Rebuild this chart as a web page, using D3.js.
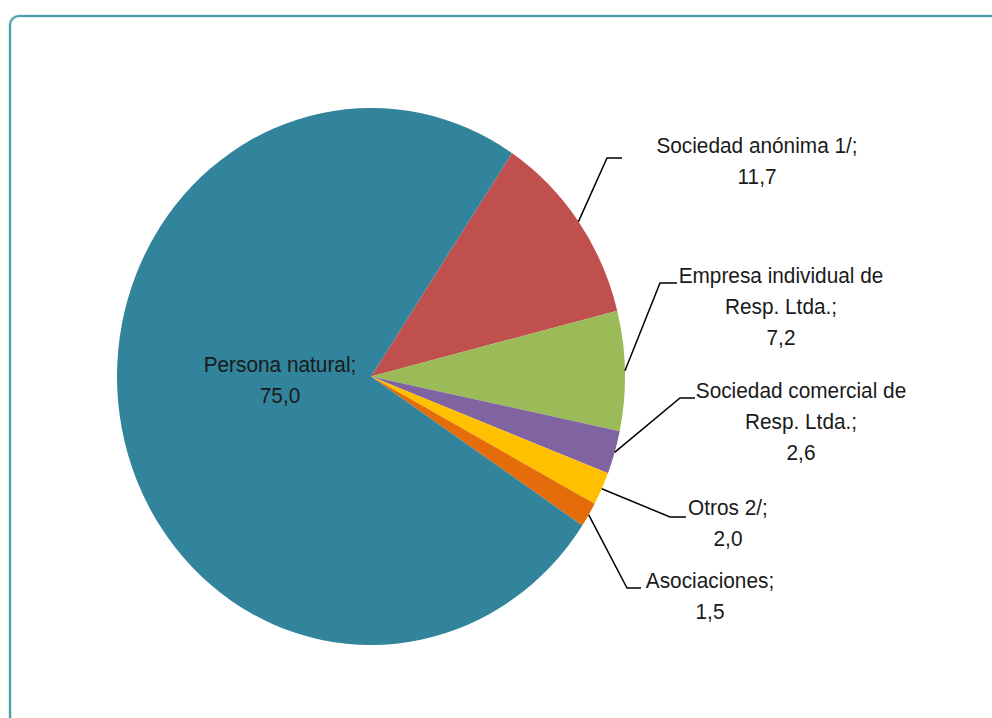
<!DOCTYPE html>
<html><head><meta charset="utf-8">
<script src="https://cdn.jsdelivr.net/npm/d3@7"></script>
<style>html,body{margin:0;padding:0;background:#fff;}svg{display:block;}</style>
</head><body>
<svg id="c" width="992" height="718"></svg>
<script>
const categories = ["Sociedad anónima 1/;", "Empresa individual de Resp. Ltda.;", "Sociedad comercial de Resp. Ltda.;", "Otros 2/;", "Asociaciones;", "Persona natural;"];
const labelLines = [["Sociedad anónima 1/;"], ["Empresa individual de", "Resp. Ltda.;"], ["Sociedad comercial de", "Resp. Ltda.;"], ["Otros 2/;"], ["Asociaciones;"], ["Persona natural;"]];
const values = [11.7, 7.2, 2.6, 2.0, 1.5, 75.0];
const valueLabels = ["11,7", "7,2", "2,6", "2,0", "1,5", "75,0"];
const colors = ["#C0504D", "#9BBB59", "#8064A2", "#FFC000", "#E46C0A", "#31849B"];
// label layout (centre x, first baseline y, elbow x, elbow y, line end x)
const labelLayout = [
  {cx: 757, y: 153, ex: 607, ey: 158, hx: 622},
  {cx: 781, y: 283, ex: 660, ey: 283, hx: 677},
  {cx: 801, y: 398, ex: 680, ey: 398, hx: 695},
  {cx: 728, y: 515, ex: 670, ey: 517, hx: 686},
  {cx: 710, y: 588, ex: 627, ey: 588, hx: 641},
  {cx: 280, y: 372}
];

const svg = d3.select("#c");
// frame
svg.append("rect").attr("x", 10).attr("y", 16).attr("width", 1200).attr("height", 1000)
  .attr("rx", 9).attr("fill", "none").attr("stroke", "#e3eef0").attr("stroke-width", 4);
svg.append("rect").attr("x", 10).attr("y", 16).attr("width", 1200).attr("height", 1000)
  .attr("rx", 9).attr("fill", "none").attr("stroke", "#4a9fae").attr("stroke-width", 2);

const cx = 371, cy = 376.5, r = 254, sy = 268.5 / 254;
const start = 33.7 * Math.PI / 180;
const pie = d3.pie().sort(null).value(d => d).startAngle(start).endAngle(start + 2 * Math.PI);
const arcs = pie(values);
const arc = d3.arc().innerRadius(0).outerRadius(r);

const g = svg.append("g").attr("transform", `translate(${cx},${cy}) scale(1,${sy})`);
g.selectAll("path").data(arcs).enter().append("path")
  .attr("d", arc).attr("fill", (d, i) => colors[i]);

// leader lines
arcs.forEach((d, i) => {
  const L = labelLayout[i];
  if (L.ex === undefined) return;
  const a = (d.startAngle + d.endAngle) / 2;
  const px = cx + r * Math.sin(a), py = cy - r * sy * Math.cos(a);
  svg.append("polyline")
    .attr("points", `${px},${py} ${L.ex},${L.ey} ${L.hx},${L.ey}`)
    .attr("fill", "none").attr("stroke", "#000").attr("stroke-width", 1.5);
});

// labels
arcs.forEach((d, i) => {
  const L = labelLayout[i];
  const lines = labelLines[i].concat([valueLabels[i]]);
  lines.forEach((t, k) => {
    svg.append("text")
      .attr("transform", `translate(${L.cx},${L.y + k * 31}) scale(0.946,1)`)
      .attr("text-anchor", "middle")
      .attr("font-family", "Arial, 'Liberation Sans', sans-serif")
      .attr("font-size", 22).attr("fill", "#1a1a1a")
      .text(t);
  });
});
</script>
</body></html>
